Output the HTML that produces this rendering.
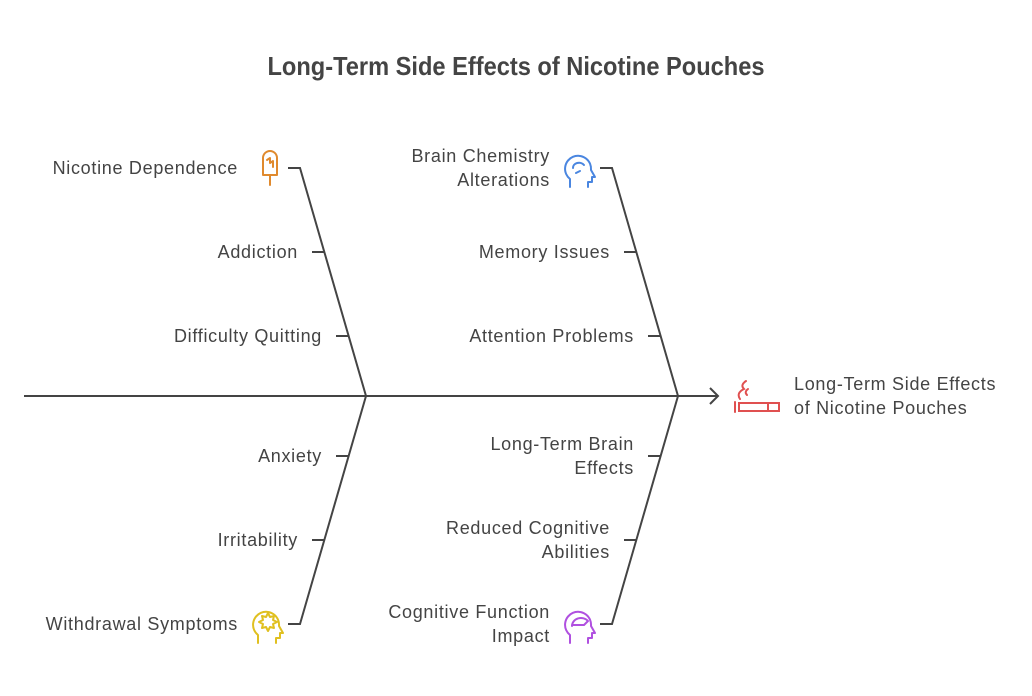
<!DOCTYPE html>
<html><head><meta charset="utf-8"><style>
html,body{margin:0;padding:0;background:#fff;}
svg{display:block;}
text{font-family:"Liberation Sans",Arial,sans-serif;fill:#444;font-size:18px;letter-spacing:0.7px;}
</style></head><body>
<svg width="1032" height="696" viewBox="0 0 1032 696" xmlns="http://www.w3.org/2000/svg">
<text x="516" y="75" text-anchor="middle" font-weight="bold" style="font-size:26px;letter-spacing:0" textLength="497" lengthAdjust="spacingAndGlyphs">Long-Term Side Effects of Nicotine Pouches</text>
<g stroke="#444" stroke-width="2" fill="none">
<line x1="24" y1="396" x2="718" y2="396"/>
<polyline points="710,388 718,396 710,404"/>
<polyline points="288,168 300,168 366,396 300,624 288,624"/>
<polyline points="600,168 612,168 678,396 612,624 600,624"/>
<line x1="312" y1="252" x2="324" y2="252"/>
<line x1="336" y1="336" x2="348" y2="336"/>
<line x1="336" y1="456" x2="348" y2="456"/>
<line x1="312" y1="540" x2="324" y2="540"/>
<line x1="624" y1="252" x2="636" y2="252"/>
<line x1="648" y1="336" x2="660" y2="336"/>
<line x1="648" y1="456" x2="660" y2="456"/>
<line x1="624" y1="540" x2="636" y2="540"/>
</g>
<g text-anchor="end">
<text x="238" y="174">Nicotine Dependence</text>
<text x="298" y="258">Addiction</text>
<text x="322" y="342">Difficulty Quitting</text>
<text x="322" y="462">Anxiety</text>
<text x="298" y="546">Irritability</text>
<text x="238" y="630">Withdrawal Symptoms</text>
<text x="550" y="162">Brain Chemistry</text>
<text x="550" y="186">Alterations</text>
<text x="610" y="258">Memory Issues</text>
<text x="634" y="342">Attention Problems</text>
<text x="634" y="450">Long-Term Brain</text>
<text x="634" y="474">Effects</text>
<text x="610" y="534">Reduced Cognitive</text>
<text x="610" y="558">Abilities</text>
<text x="550" y="618">Cognitive Function</text>
<text x="550" y="642">Impact</text>
</g>
<text x="794" y="390">Long-Term Side Effects</text>
<text x="794" y="414">of Nicotine Pouches</text>
<g stroke="#e08a2e" stroke-width="2" fill="none" stroke-linecap="round" stroke-linejoin="round">
<path d="M263,175 V158 a7,7 0 0 1 14,0 V175 Z"/>
<line x1="270" y1="175" x2="270" y2="185"/>
<path d="M267,160 l3,-2 v5 l3,-2 v6"/>
</g>
<g stroke="#4a86e0" stroke-width="2" fill="none" stroke-linecap="round" stroke-linejoin="round">
<path d="M570,187 v-8 a13,13 0 1 1 21,-9 l4,7 h-3 v5 h-4 v5"/>
<path d="M573,168 a6,5 0 0 1 11,-3 M576,173 l4,-2"/>
</g>
<g stroke="#e0c020" stroke-width="2" fill="none" stroke-linecap="round" stroke-linejoin="round">
<path d="M258,643 v-8 a13,13 0 1 1 21,-9 l4,7 h-3 v5 h-4 v5"/>
<path d="M268,613 l2,4 4,-1 -1,4 4,2 -4,2 1,4 -4,-1 -2,4 -2,-4 -4,1 1,-4 -4,-2 4,-2 -1,-4 4,1 Z"/>
</g>
<g stroke="#b050e0" stroke-width="2" fill="none" stroke-linecap="round" stroke-linejoin="round">
<path d="M570,643 v-8 a13,13 0 1 1 21,-9 l4,7 h-3 v5 h-4 v5"/>
<path d="M572,626 a9,8 0 0 1 16,-5 l-4,4 h-12 Z"/>
</g>
<g stroke="#e05050" stroke-width="2" fill="none" stroke-linecap="round">
<rect x="739" y="403" width="40" height="8"/>
<line x1="768" y1="403" x2="768" y2="411"/>
<line x1="735" y1="402" x2="735" y2="412"/>
<path d="M746,381 q-6,4 -2,8 q-8,4 -4,10"/>
<path d="M748,389 q-4,3 -1,6"/>
</g>
</svg>
</body></html>
